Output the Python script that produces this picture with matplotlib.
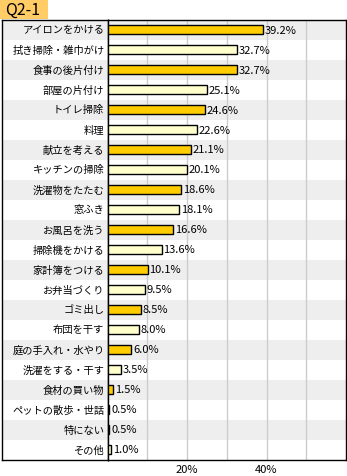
import matplotlib
matplotlib.use("Agg")
import matplotlib.pyplot as plt
from matplotlib.patches import Rectangle

plt.rcParams['font.family'] = ['Noto Sans CJK JP', 'DejaVu Sans']

categories = ["アイロンをかける", "拭き掃除・雑巾がけ", "食事の後片付け", "部屋の片付け",
              "トイレ掃除", "料理", "献立を考える", "キッチンの掃除", "洗濯物をたたむ",
              "窓ふき", "お風呂を洗う", "掃除機をかける", "家計簿をつける", "お弁当づくり",
              "ゴミ出し", "布団を干す", "庭の手入れ・水やり", "洗濯をする・干す",
              "食材の買い物", "ペットの散歩・世話", "特にない", "その他"]
values = [39.2, 32.7, 32.7, 25.1, 24.6, 22.6, 21.1, 20.1, 18.6, 18.1, 16.6, 13.6,
          10.1, 9.5, 8.5, 8.0, 6.0, 3.5, 1.5, 0.5, 0.5, 1.0]
xticks = [20, 40]
xticklabels = ["20%", "40%"]
title = "Q2-1"

W, H = 347, 477
fig = plt.figure(figsize=(W / 100, H / 100), dpi=100)

top_px, bot_px = 20.5, 460.5
left_px, axis_px, right_px = 1.5, 107.5, 346
n = len(categories)

# label axes
lax = fig.add_axes([left_px / W, 1 - bot_px / H, (axis_px - left_px) / W, (bot_px - top_px) / H])
ax = fig.add_axes([axis_px / W, 1 - bot_px / H, (right_px - axis_px) / W, (bot_px - top_px) / H])

for a in (lax, ax):
    a.set_ylim(n - 0.5, -0.5)
    for i in range(n):
        if i % 2 == 0:
            a.axhspan(i - 0.5, i + 0.5, color="#EEEEEE", lw=0, zorder=0)
    for s in a.spines.values():
        s.set_color("black")
        s.set_linewidth(1)

lax.set_xlim(0, 1)
lax.set_xticks([])
lax.set_yticks([])
for i, c in enumerate(categories):
    lax.text(0.97, i, c, ha="right", va="center", fontsize=7.4, color="black")

ax.set_xlim(0, 60)
for g in [10, 20, 30, 40, 50]:
    ax.axvline(g, color="#CCCCCC", lw=1, zorder=1)
colors = ["#FFCC00" if i % 2 == 0 else "#FFFFCC" for i in range(n)]
ax.barh(range(n), values, height=0.45, color=colors, edgecolor="black", linewidth=1, zorder=3)
for i, v in enumerate(values):
    ax.text(v + 0.4, i, f"{v:.1f}%", ha="left", va="center", fontsize=8, color="black", zorder=4)
ax.set_yticks([])
ax.set_xticks(xticks)
ax.set_xticklabels(xticklabels, fontsize=8)
ax.tick_params(axis="x", length=0, pad=3)

# title box
fig.patches.append(Rectangle((0, 1 - 20 / H), 48 / W, 20 / H, transform=fig.transFigure,
                             facecolor="#FFCC66", edgecolor="none"))
fig.text(5 / W, 1 - 10.5 / H, title, ha="left", va="center", fontsize=11.5, color="black")

fig.savefig("out.png", dpi=100)
